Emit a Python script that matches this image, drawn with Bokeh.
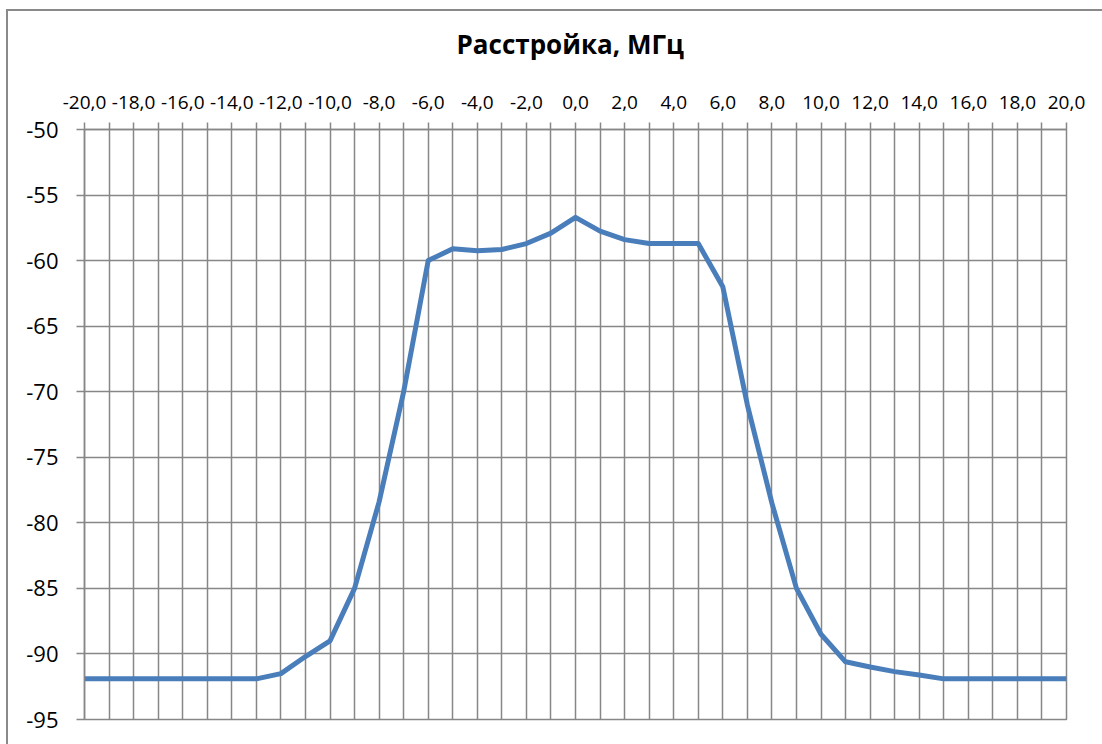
from bokeh.plotting import figure
from bokeh.models import FixedTicker, Range1d, LinearAxis
from bokeh.embed import file_html
from bokeh.resources import INLINE

# Data
detuning = [-20, -19, -18, -17, -16, -15, -14, -13, -12, -11, -10, -9, -8, -7, -6, -5, -4, -3, -2, -1,
            0, 1, 2, 3, 4, 5, 6, 7, 8, 9, 10, 11, 12, 13, 14, 15, 16, 17, 18, 19, 20]
level = [-91.9, -91.9, -91.9, -91.9, -91.9, -91.9, -91.9, -91.9, -91.5, -90.2, -89.0, -85.0, -78.4,
         -70.0, -60.0, -59.1, -59.25, -59.15, -58.7, -57.9, -56.7, -57.75, -58.4, -58.7, -58.7, -58.7,
         -62.0, -71.0, -78.5, -85.0, -88.5, -90.6, -91.0, -91.35, -91.6, -91.9, -91.9, -91.9, -91.9,
         -91.9, -91.9]

x_ticks = [-20, -18, -16, -14, -12, -10, -8, -6, -4, -2, 0, 2, 4, 6, 8, 10, 12, 14, 16, 18, 20]
x_tick_labels = ["-20,0", "-18,0", "-16,0", "-14,0", "-12,0", "-10,0", "-8,0", "-6,0", "-4,0", "-2,0",
                 "0,0", "2,0", "4,0", "6,0", "8,0", "10,0", "12,0", "14,0", "16,0", "18,0", "20,0"]
x_minor = [-19, -17, -15, -13, -11, -9, -7, -5, -3, -1, 1, 3, 5, 7, 9, 11, 13, 15, 17, 19]
y_ticks = [-50, -55, -60, -65, -70, -75, -80, -85, -90, -95]
y_tick_labels = ["-50", "-55", "-60", "-65", "-70", "-75", "-80", "-85", "-90", "-95"]

title_text = "Расстройка, МГц"

GRID = "#878787"
FONT = "Open Sans"
SHIFT = 8  # canvas starts this many px above the page top

p = figure(width=1102, height=744 + SHIFT, output_backend="svg", toolbar_location=None,
           x_range=Range1d(-20, 20), y_range=Range1d(-95, -50),
           x_axis_location=None, y_axis_location=None,
           min_border_left=84, min_border_top=129 + SHIFT, min_border_right=36, min_border_bottom=25)

p.title.text = title_text
p.title.text_font = FONT
p.title.text_font_size = "26px"
p.title.text_font_style = "bold"
p.title.text_color = "#000000"
p.title.align = "left"
p.title.offset = 372
p.title.standoff = 62

xaxis = LinearAxis(ticker=FixedTicker(ticks=x_ticks, minor_ticks=x_minor))
xaxis.major_label_overrides = {t: s for t, s in zip(x_ticks, x_tick_labels)}
xaxis.major_label_text_font = FONT
xaxis.major_label_text_font_size = "19px"
xaxis.major_label_text_color = "#000000"
xaxis.major_label_standoff = 14
xaxis.axis_line_color = GRID
xaxis.axis_line_width = 1.5
xaxis.major_tick_line_color = GRID
xaxis.major_tick_line_width = 1.5
xaxis.minor_tick_line_color = GRID
xaxis.minor_tick_line_width = 1.5
xaxis.major_tick_out = 7
xaxis.major_tick_in = 0
xaxis.minor_tick_out = 7
xaxis.minor_tick_in = 0
p.add_layout(xaxis, "above")

yaxis = LinearAxis(ticker=FixedTicker(ticks=y_ticks))
yaxis.major_label_overrides = {t: s for t, s in zip(y_ticks, y_tick_labels)}
yaxis.major_label_text_font = FONT
yaxis.major_label_text_font_size = "22px"
yaxis.major_label_text_color = "#000000"
yaxis.major_label_standoff = 18
yaxis.axis_line_color = GRID
yaxis.axis_line_width = 1.5
yaxis.major_tick_line_color = GRID
yaxis.major_tick_line_width = 1.5
yaxis.major_tick_out = 8
yaxis.major_tick_in = 0
yaxis.minor_tick_line_color = None
p.add_layout(yaxis, "left")

p.xgrid.ticker = FixedTicker(ticks=x_ticks, minor_ticks=x_minor)
p.xgrid.grid_line_color = GRID
p.xgrid.grid_line_width = 1.5
p.xgrid.minor_grid_line_color = GRID
p.xgrid.minor_grid_line_width = 1.5
p.ygrid.ticker = FixedTicker(ticks=y_ticks)
p.ygrid.grid_line_color = GRID
p.ygrid.grid_line_width = 1.5

p.outline_line_color = GRID
p.outline_line_width = 1.5
p.background_fill_color = "#ffffff"
p.border_fill_color = None

p.line(detuning, level, line_color="#4A7EBB", line_width=5, line_join="round")

# outer chart-area border (only its top and left edges are visible in the reference),
# painted behind the transparent canvas border area
p.styles = {
    "margin-top": f"-{SHIFT}px",
    "background": (f"linear-gradient(#8a8a8a, #8a8a8a) 6px {9 + SHIFT}px / 2px 760px no-repeat, "
                   f"linear-gradient(#8a8a8a, #8a8a8a) 6px {9 + SHIFT}px / 1096px 2px no-repeat, #ffffff"),
}

open("out.html", "w").write(file_html(p, INLINE))
